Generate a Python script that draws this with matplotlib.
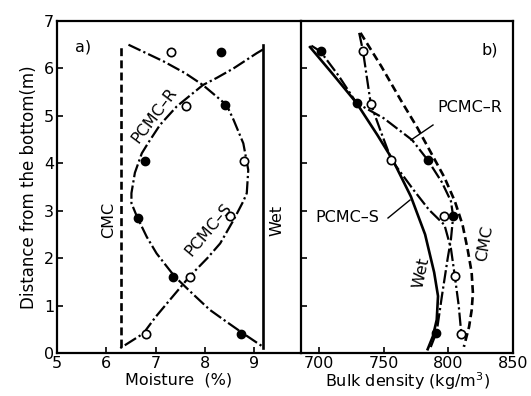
import matplotlib
matplotlib.use("Agg")
import matplotlib.pyplot as plt
from matplotlib.lines import Line2D

plt.rcParams['font.family'] = ['DejaVu Sans']

# ---------------- data: panel a (moisture %) ----------------
cmc_a_x = [6.29, 6.29]
cmc_a_y = [0.12, 6.45]
wet_a_x = [9.18, 9.18]
wet_a_y = [0.1, 6.5]
# left-bulging curve
pcmcr_a_x = [9.18, 9.05, 8.58, 8.24, 7.96, 7.63, 7.43, 7.09, 6.85, 6.72, 6.58, 6.51, 6.51,
             6.62, 6.82, 7.02, 7.23, 7.39, 7.75, 8.1, 8.45, 8.78, 9.18]
pcmcr_a_y = [6.4, 6.32, 6.0, 5.8, 5.65, 5.37, 5.2, 4.81, 4.43, 4.21, 3.8, 3.37, 3.16,
             2.88, 2.45, 2.1, 1.82, 1.61, 1.25, 0.91, 0.65, 0.41, 0.13]
# right-bulging curve
pcmcs_a_x = [6.45, 7.16, 7.6, 7.96, 8.44, 8.58, 8.78, 8.88, 8.85, 8.78, 8.58, 8.31, 8.05,
             7.76, 7.63, 7.29, 7.0, 6.75, 6.28]
pcmcs_a_y = [6.5, 6.15, 5.9, 5.65, 5.23, 4.92, 4.42, 3.86, 3.37, 3.2, 2.8, 2.31, 2.0,
             1.69, 1.54, 1.12, 0.76, 0.41, 0.1]
filled_a_x = [8.32, 8.41, 6.78, 6.64, 7.36, 8.73]
filled_a_y = [6.34, 5.23, 4.04, 2.84, 1.6, 0.4]
open_a_x = [7.31, 7.61, 8.8, 8.5, 7.7, 6.8]
open_a_y = [6.34, 5.21, 4.05, 2.88, 1.6, 0.4]

# ---------------- data: panel b (bulk density kg/m3) ----------------
cmc_b_x = [732, 748, 763, 776, 787, 797, 805, 811, 815, 818, 819, 818, 816, 812]
cmc_b_y = [6.75, 6.05, 5.34, 4.75, 4.2, 3.7, 3.2, 2.7, 2.17, 1.7, 1.26, 0.9, 0.55, 0.13]
wet_b_x = [693, 710, 729, 745, 757, 771, 782, 789, 792, 791, 788, 784]
wet_b_y = [6.45, 5.9, 5.27, 4.6, 4.07, 3.3, 2.5, 1.7, 1.2, 0.7, 0.35, 0.08]
pcmcr_b_x = [694, 701, 715, 729, 750, 772, 784, 795, 802, 803.7, 802, 799.5, 795, 791, 786]
pcmcr_b_y = [6.48, 6.36, 5.85, 5.27, 4.95, 4.49, 4.07, 3.6, 3.2, 2.88, 2.4, 2.0, 1.2, 0.45, 0.1]
pcmcs_b_x = [731, 734, 737, 740, 748, 756, 773, 785, 797, 802, 805, 808, 810]
pcmcs_b_y = [6.75, 6.36, 5.8, 5.25, 4.65, 4.07, 3.44, 3.02, 2.7, 2.2, 1.62, 1.0, 0.41]
filled_b_x = [701.3, 729, 784, 803.7, 790.6]
filled_b_y = [6.36, 5.27, 4.07, 2.88, 0.42]
open_b_x = [734, 739.8, 756, 796.6, 805, 809.6]
open_b_y = [6.36, 5.25, 4.07, 2.88, 1.62, 0.41]

xticks_a = [5, 6, 7, 8, 9]
xticks_b = [700, 750, 800, 850]
yticks = [0, 1, 2, 3, 4, 5, 6, 7]

W, H = 531, 396
fig = plt.figure(figsize=(W / 100, H / 100), dpi=100)

def box(x0, x1, y0, y1):
    return [x0 / W, 1 - y1 / H, (x1 - x0) / W, (y1 - y0) / H]

axa = fig.add_axes(box(57, 301, 21, 353))
axb = fig.add_axes(box(301, 513, 21, 353))

LW = 1.6
dashdot = (6, 1.4, 1, 1.4)
dashed = (3, 1.6)

# panel a
axa.plot(cmc_a_x, cmc_a_y, color='black', lw=LW + 0.3, dashes=dashed)
axa.plot(wet_a_x, wet_a_y, color='black', lw=LW + 0.3)
axa.plot(pcmcr_a_x, pcmcr_a_y, color='black', lw=LW, dashes=dashdot)
axa.plot(pcmcs_a_x, pcmcs_a_y, color='black', lw=LW, dashes=dashdot)
axa.plot(filled_a_x, filled_a_y, 'o', color='black', ms=6, zorder=5)
axa.plot(open_a_x, open_a_y, 'o', mfc='white', mec='black', mew=1.2, ms=6, zorder=5)

# panel b
axb.plot(cmc_b_x, cmc_b_y, color='black', lw=LW + 0.3, dashes=dashed)
axb.plot(wet_b_x, wet_b_y, color='black', lw=LW + 0.3)
axb.plot(pcmcr_b_x, pcmcr_b_y, color='black', lw=LW, dashes=dashdot)
axb.plot(pcmcs_b_x, pcmcs_b_y, color='black', lw=LW, dashes=dashdot)
axb.plot(filled_b_x, filled_b_y, 'o', color='black', ms=6, zorder=5)
axb.plot(open_b_x, open_b_y, 'o', mfc='white', mec='black', mew=1.2, ms=6, zorder=5)

for ax in (axa, axb):
    ax.set_ylim(0, 7)
    for s in ax.spines.values():
        s.set_linewidth(1.6)
    ax.tick_params(direction='in', length=4, width=1.2, labelsize=11.5, pad=2)

axa.set_xlim(5, 9.95)
axa.set_xticks(xticks_a)
axa.set_yticks(yticks)
axa.tick_params(top=False, right=False)
axa.tick_params(axis='y', pad=2)
axa.spines['right'].set_visible(False)

axb.set_xlim(686, 850)
axb.set_xticks(xticks_b)
axb.set_yticks(yticks)
axb.set_yticklabels([])
axb.tick_params(top=False, right=False)

axa.set_xlabel('Moisture  (%)', fontsize=11.5, labelpad=1)
axb.set_xlabel('Bulk density (kg/m$^3$)', fontsize=11.5, labelpad=0)
axa.set_ylabel('Distance from the bottom(m)', fontsize=12, labelpad=4)

def ftext(x, y, s, **kw):
    fig.text(x / W, 1 - y / H, s, ha='center', va='center', fontsize=11.5, **kw)

ftext(83, 47, 'a)')
ftext(109, 220, 'CMC', rotation=90)
ftext(277, 220, 'Wet', rotation=90)
ftext(154, 115, 'PCMC\u2013R', rotation=53)
ftext(208, 230, 'PCMC\u2013S', rotation=50)

ftext(490, 50, 'b)')
ftext(470, 107, 'PCMC\u2013R')
ftext(347, 218, 'PCMC\u2013S')
ftext(421, 273, 'Wet', rotation=78)
ftext(485, 243, 'CMC', rotation=80)

# leader lines
for (x0, y0, x1, y1) in [(433, 125, 411, 140), (388, 218, 410, 200)]:
    fig.add_artist(Line2D([x0 / W, x1 / W], [1 - y0 / H, 1 - y1 / H], color='black', lw=1.0,
                          transform=fig.transFigure))

fig.savefig('out.png', dpi=100)
